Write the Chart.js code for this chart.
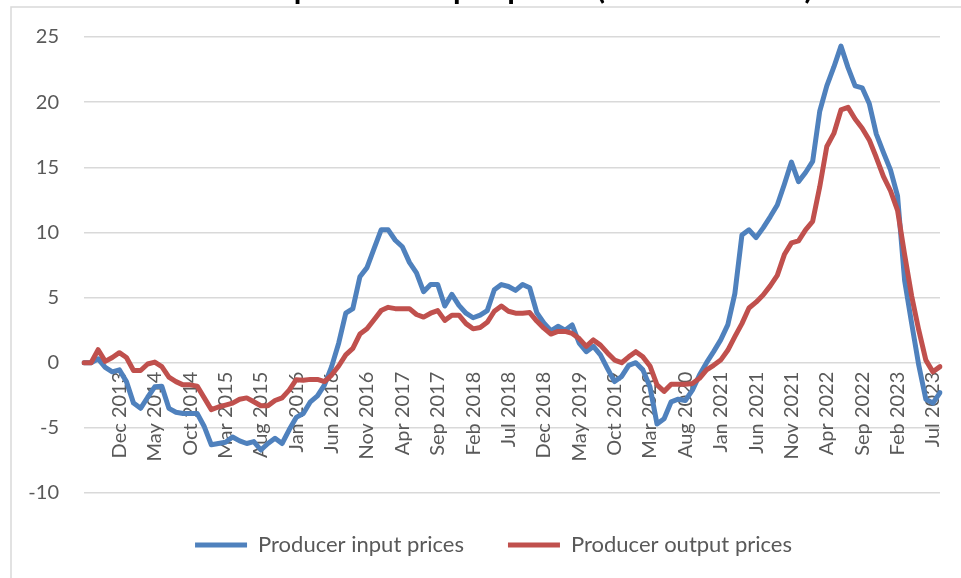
<!DOCTYPE html>
<html>
<head>
<meta charset="utf-8">
<script src="https://cdn.jsdelivr.net/npm/chart.js@4.4.0/dist/chart.umd.min.js"></script>
<style>
  html, body { margin: 0; padding: 0; background: #fff; }
</style>
</head>
<body>
<canvas id="grafico" width="961" height="578"></canvas>
<script>
const titulo = 'Producer input and output prices (12-month rate)';

// Jul 2013 - Aug 2023, one entry per month
const meses = [
  'Jul 2013', 'Aug 2013', 'Sep 2013', 'Oct 2013', 'Nov 2013', 'Dec 2013',
  'Jan 2014', 'Feb 2014', 'Mar 2014', 'Apr 2014', 'May 2014', 'Jun 2014', 'Jul 2014', 'Aug 2014', 'Sep 2014', 'Oct 2014', 'Nov 2014', 'Dec 2014',
  'Jan 2015', 'Feb 2015', 'Mar 2015', 'Apr 2015', 'May 2015', 'Jun 2015', 'Jul 2015', 'Aug 2015', 'Sep 2015', 'Oct 2015', 'Nov 2015', 'Dec 2015',
  'Jan 2016', 'Feb 2016', 'Mar 2016', 'Apr 2016', 'May 2016', 'Jun 2016', 'Jul 2016', 'Aug 2016', 'Sep 2016', 'Oct 2016', 'Nov 2016', 'Dec 2016',
  'Jan 2017', 'Feb 2017', 'Mar 2017', 'Apr 2017', 'May 2017', 'Jun 2017', 'Jul 2017', 'Aug 2017', 'Sep 2017', 'Oct 2017', 'Nov 2017', 'Dec 2017',
  'Jan 2018', 'Feb 2018', 'Mar 2018', 'Apr 2018', 'May 2018', 'Jun 2018', 'Jul 2018', 'Aug 2018', 'Sep 2018', 'Oct 2018', 'Nov 2018', 'Dec 2018',
  'Jan 2019', 'Feb 2019', 'Mar 2019', 'Apr 2019', 'May 2019', 'Jun 2019', 'Jul 2019', 'Aug 2019', 'Sep 2019', 'Oct 2019', 'Nov 2019', 'Dec 2019',
  'Jan 2020', 'Feb 2020', 'Mar 2020', 'Apr 2020', 'May 2020', 'Jun 2020', 'Jul 2020', 'Aug 2020', 'Sep 2020', 'Oct 2020', 'Nov 2020', 'Dec 2020',
  'Jan 2021', 'Feb 2021', 'Mar 2021', 'Apr 2021', 'May 2021', 'Jun 2021', 'Jul 2021', 'Aug 2021', 'Sep 2021', 'Oct 2021', 'Nov 2021', 'Dec 2021',
  'Jan 2022', 'Feb 2022', 'Mar 2022', 'Apr 2022', 'May 2022', 'Jun 2022', 'Jul 2022', 'Aug 2022', 'Sep 2022', 'Oct 2022', 'Nov 2022', 'Dec 2022',
  'Jan 2023', 'Feb 2023', 'Mar 2023', 'Apr 2023', 'May 2023', 'Jun 2023', 'Jul 2023', 'Aug 2023'
];

// labels that are written on the axis
const etiquetasEje = [
  'Dec 2013', 'May 2014', 'Oct 2014', 'Mar 2015', 'Aug 2015', 'Jan 2016', 'Jun 2016', 'Nov 2016',
  'Apr 2017', 'Sep 2017', 'Feb 2018', 'Jul 2018', 'Dec 2018', 'May 2019', 'Oct 2019', 'Mar 2020',
  'Aug 2020', 'Jan 2021', 'Jun 2021', 'Nov 2021', 'Apr 2022', 'Sep 2022', 'Feb 2023', 'Jul 2023'
];

const preciosEntrada = [
  0, 0, 0.3, -0.35, -0.7, -0.55, -1.45, -3.1, -3.5, -2.65,
  -1.85, -1.8, -3.5, -3.8, -3.9, -3.9, -3.9, -4.9, -6.3, -6.2,
  -6.1, -5.7, -6.0, -6.2, -6.05, -6.7, -6.2, -5.8, -6.2, -5.15,
  -4.2, -3.9, -3.0, -2.55, -1.7, -0.3, 1.5, 3.8, 4.15, 6.6,
  7.3, 8.75, 10.2, 10.2, 9.4, 8.9, 7.7, 6.9, 5.45, 6.0,
  6.0, 4.35, 5.25, 4.4, 3.8, 3.45, 3.65, 4.0, 5.6, 6.0,
  5.85, 5.55, 6.0, 5.75, 3.85, 3.05, 2.45, 2.8, 2.5, 2.9,
  1.5, 0.85, 1.25, 0.6, -0.45, -1.45, -1.05, -0.2, 0, -0.55,
  -1.85, -4.7, -4.3, -3.0, -2.8, -2.9, -2.1, -0.95, 0, 0.85,
  1.75, 2.9, 5.3, 9.8, 10.2, 9.6, 10.35, 11.2, 12.1, 13.7,
  15.4, 13.9, 14.6, 15.45, 19.3, 21.25, 22.7, 24.3, 22.65, 21.25,
  21.1, 19.9, 17.55, 16.15, 14.8, 12.8, 6.3, 3.0, -0.2, -2.8,
  -3.1, -2.3
];

const preciosSalida = [
  0, 0, 1.0, 0.1, 0.4, 0.77, 0.4, -0.6, -0.6, -0.1,
  0.05, -0.3, -1.1, -1.45, -1.7, -1.7, -1.8, -2.7, -3.6, -3.4,
  -3.25, -3.1, -2.8, -2.7, -3.0, -3.3, -3.3, -2.9, -2.7, -2.1,
  -1.3, -1.35, -1.28, -1.28, -1.45, -0.95, -0.25, 0.6, 1.1, 2.2,
  2.6, 3.3, 4.0, 4.25, 4.15, 4.15, 4.15, 3.7, 3.5, 3.8,
  4.0, 3.25, 3.65, 3.65, 3.0, 2.6, 2.7, 3.1, 3.95, 4.35,
  3.95, 3.8, 3.8, 3.85, 3.2, 2.65, 2.2, 2.4, 2.4, 2.25,
  1.85, 1.25, 1.75, 1.35, 0.75, 0.2, 0, 0.45, 0.85, 0.45,
  -0.25, -1.7, -2.2, -1.65, -1.65, -1.65, -1.6, -1.2, -0.55, -0.2,
  0.2, 0.95, 2.0, 3.0, 4.2, 4.65, 5.2, 5.9, 6.7, 8.3,
  9.2, 9.35, 10.2, 10.85, 13.5, 16.6, 17.6, 19.4, 19.6, 18.7,
  18.0, 17.1, 15.75, 14.3, 13.2, 11.7, 8.3, 5.1, 2.5, 0.2,
  -0.7, -0.3
];

const grisTexto = '#595959';

// border of the chart box, the (cut off) title above it, and legend placement
const marcoYTitulo = {
  id: 'marcoYTitulo',
  afterLayout(chart) {
    // centre the legend like the original (not on the full canvas width)
    const leyenda = chart.legend;
    leyenda.left = 47;
    leyenda.right = 940;
    leyenda.top -= 3;
  },
  beforeDraw(chart) {
    const ctx = chart.ctx;
    ctx.save();
    ctx.strokeStyle = '#d9d9d9';
    ctx.lineWidth = 1.5;
    ctx.strokeRect(11, 7, 1000, 650);
    ctx.restore();
  },
  afterDraw(chart) {
    const ctx = chart.ctx;
    ctx.save();
    ctx.font = 'bold 31px Lato';
    ctx.fillStyle = '#000';
    ctx.textAlign = 'center';
    ctx.textBaseline = 'alphabetic';
    ctx.fillText(titulo, 474, -1);
    ctx.restore();
  }
};

const ctx = document.getElementById('grafico').getContext('2d');

new Chart(ctx, {
  type: 'line',
  data: {
    labels: meses,
    datasets: [
      {
        label: 'Producer input prices',
        data: preciosEntrada,
        borderColor: '#4f81bd',
        backgroundColor: '#4f81bd',
        borderWidth: 5,
        order: 1
      },
      {
        label: 'Producer output prices',
        data: preciosSalida,
        borderColor: '#c0504d',
        backgroundColor: '#c0504d',
        borderWidth: 5,
        order: 0
      }
    ]
  },
  options: {
    responsive: false,
    animation: false,
    devicePixelRatio: 1,
    elements: {
      point: { radius: 0 },
      line: { tension: 0, borderJoinStyle: 'round', borderCapStyle: 'round' }
    },
    layout: {
      padding: { left: 0, right: 21, top: 37, bottom: 9 }
    },
    scales: {
      x: {
        type: 'category',
        position: { y: 0 },
        grid: { display: false, drawTicks: false },
        border: { display: false },
        ticks: {
          autoSkip: false,
          minRotation: 90,
          maxRotation: 90,
          padding: 9,
          color: grisTexto,
          font: { family: 'Lato', size: 20 },
          callback: (valor, i) => etiquetasEje.includes(meses[i]) ? meses[i] : ''
        },
        afterFit: (escala) => { escala.paddingLeft = 0; escala.paddingRight = 0; }
      },
      y: {
        min: -10,
        max: 25,
        grid: { color: '#d9d9d9', lineWidth: 1.5, drawTicks: false },
        border: { display: false },
        ticks: {
          stepSize: 5,
          padding: 25,
          color: grisTexto,
          font: { family: 'Lato', size: 20 }
        },
        afterFit: (escala) => { escala.width = 84; }
      }
    },
    plugins: {
      legend: {
        position: 'bottom',
        labels: {
          usePointStyle: true,
          pointStyle: 'line',
          pointStyleWidth: 52,
          padding: 44,
          color: grisTexto,
          font: { family: 'Lato', size: 22 },
          sort: (a, b) => a.datasetIndex - b.datasetIndex
        }
      },
      tooltip: { enabled: false }
    }
  },
  plugins: [marcoYTitulo]
});
</script>
</body>
</html>
